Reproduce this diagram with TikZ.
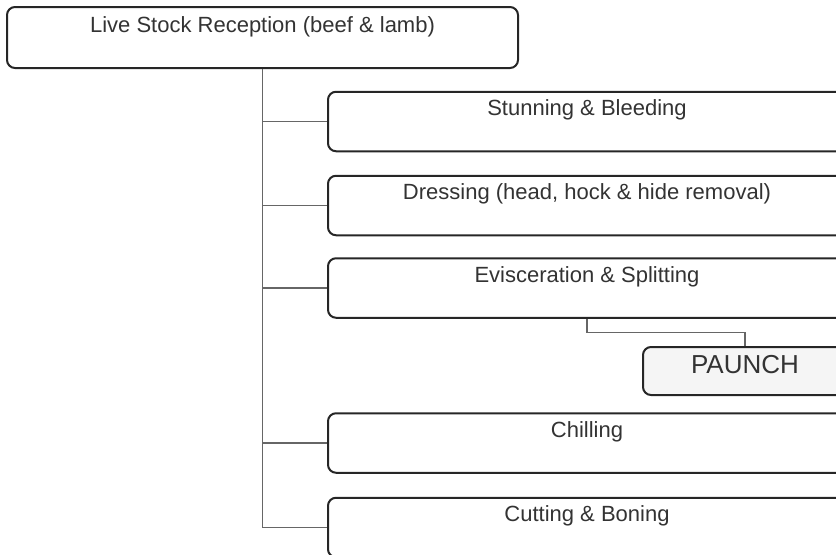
\documentclass[tikz,border=0pt]{standalone}
\usepackage{fontspec}
\setmainfont{Liberation Sans}
\usetikzlibrary{positioning}

\tikzset{
	stage/.style={draw=black!85, line width=1pt, rounded corners=4pt, minimum width=259pt,
		inner xsep=0pt, inner ysep=0pt, text height=12pt, text depth=17.75pt,
		font=\fontsize{11}{13}\selectfont, text=black!80},
	headstage/.style={stage, minimum width=255.5pt, text height=12.5pt, text depth=18pt},
	paunchbox/.style={draw=black!85, line width=1pt, rounded corners=4pt, fill=black!4,
		minimum width=102pt, inner xsep=0pt, inner ysep=0pt, text height=13pt, text depth=11pt,
		font=\fontsize{13}{15}\selectfont, text=black!80},
	link/.style={draw=black!60, line width=0.6pt}
}

\begin{document}
\begin{tikzpicture}[x=0.5pt, y=-0.5pt]
	\useasboundingbox (0,0) rectangle (836,554);
	\clip (0,0) rectangle (836,554);

	% process stages
	\node[headstage] (recep) at (262.5, 37.5) {Live Stock Reception (beef \& lamb)};
	\node[stage] (stun)  at (587, 121.5) {Stunning \& Bleeding};
	\node[stage] (dress) at (587, 205.5) {Dressing (head, hock \& hide removal)};
	\node[stage] (evisc) at (587, 288)   {Evisceration \& Splitting};
	\node[paunchbox] (paunch) at (745, 371) {PAUNCH};
	\node[stage] (chill) at (587, 443)   {Chilling};
	\node[stage] (cut)   at (587, 527.5) {Cutting \& Boning};

	% main line and branches
	\draw[link] (recep.south) |- (cut.west);
	\foreach \s in {stun, dress, evisc, chill}
		\draw[link] (recep.south |- \s.west) -- (\s.west);

	% by-product
	\draw[link] (evisc.south) -- ++(0, 14) -| (paunch.north);
\end{tikzpicture}
\end{document}
